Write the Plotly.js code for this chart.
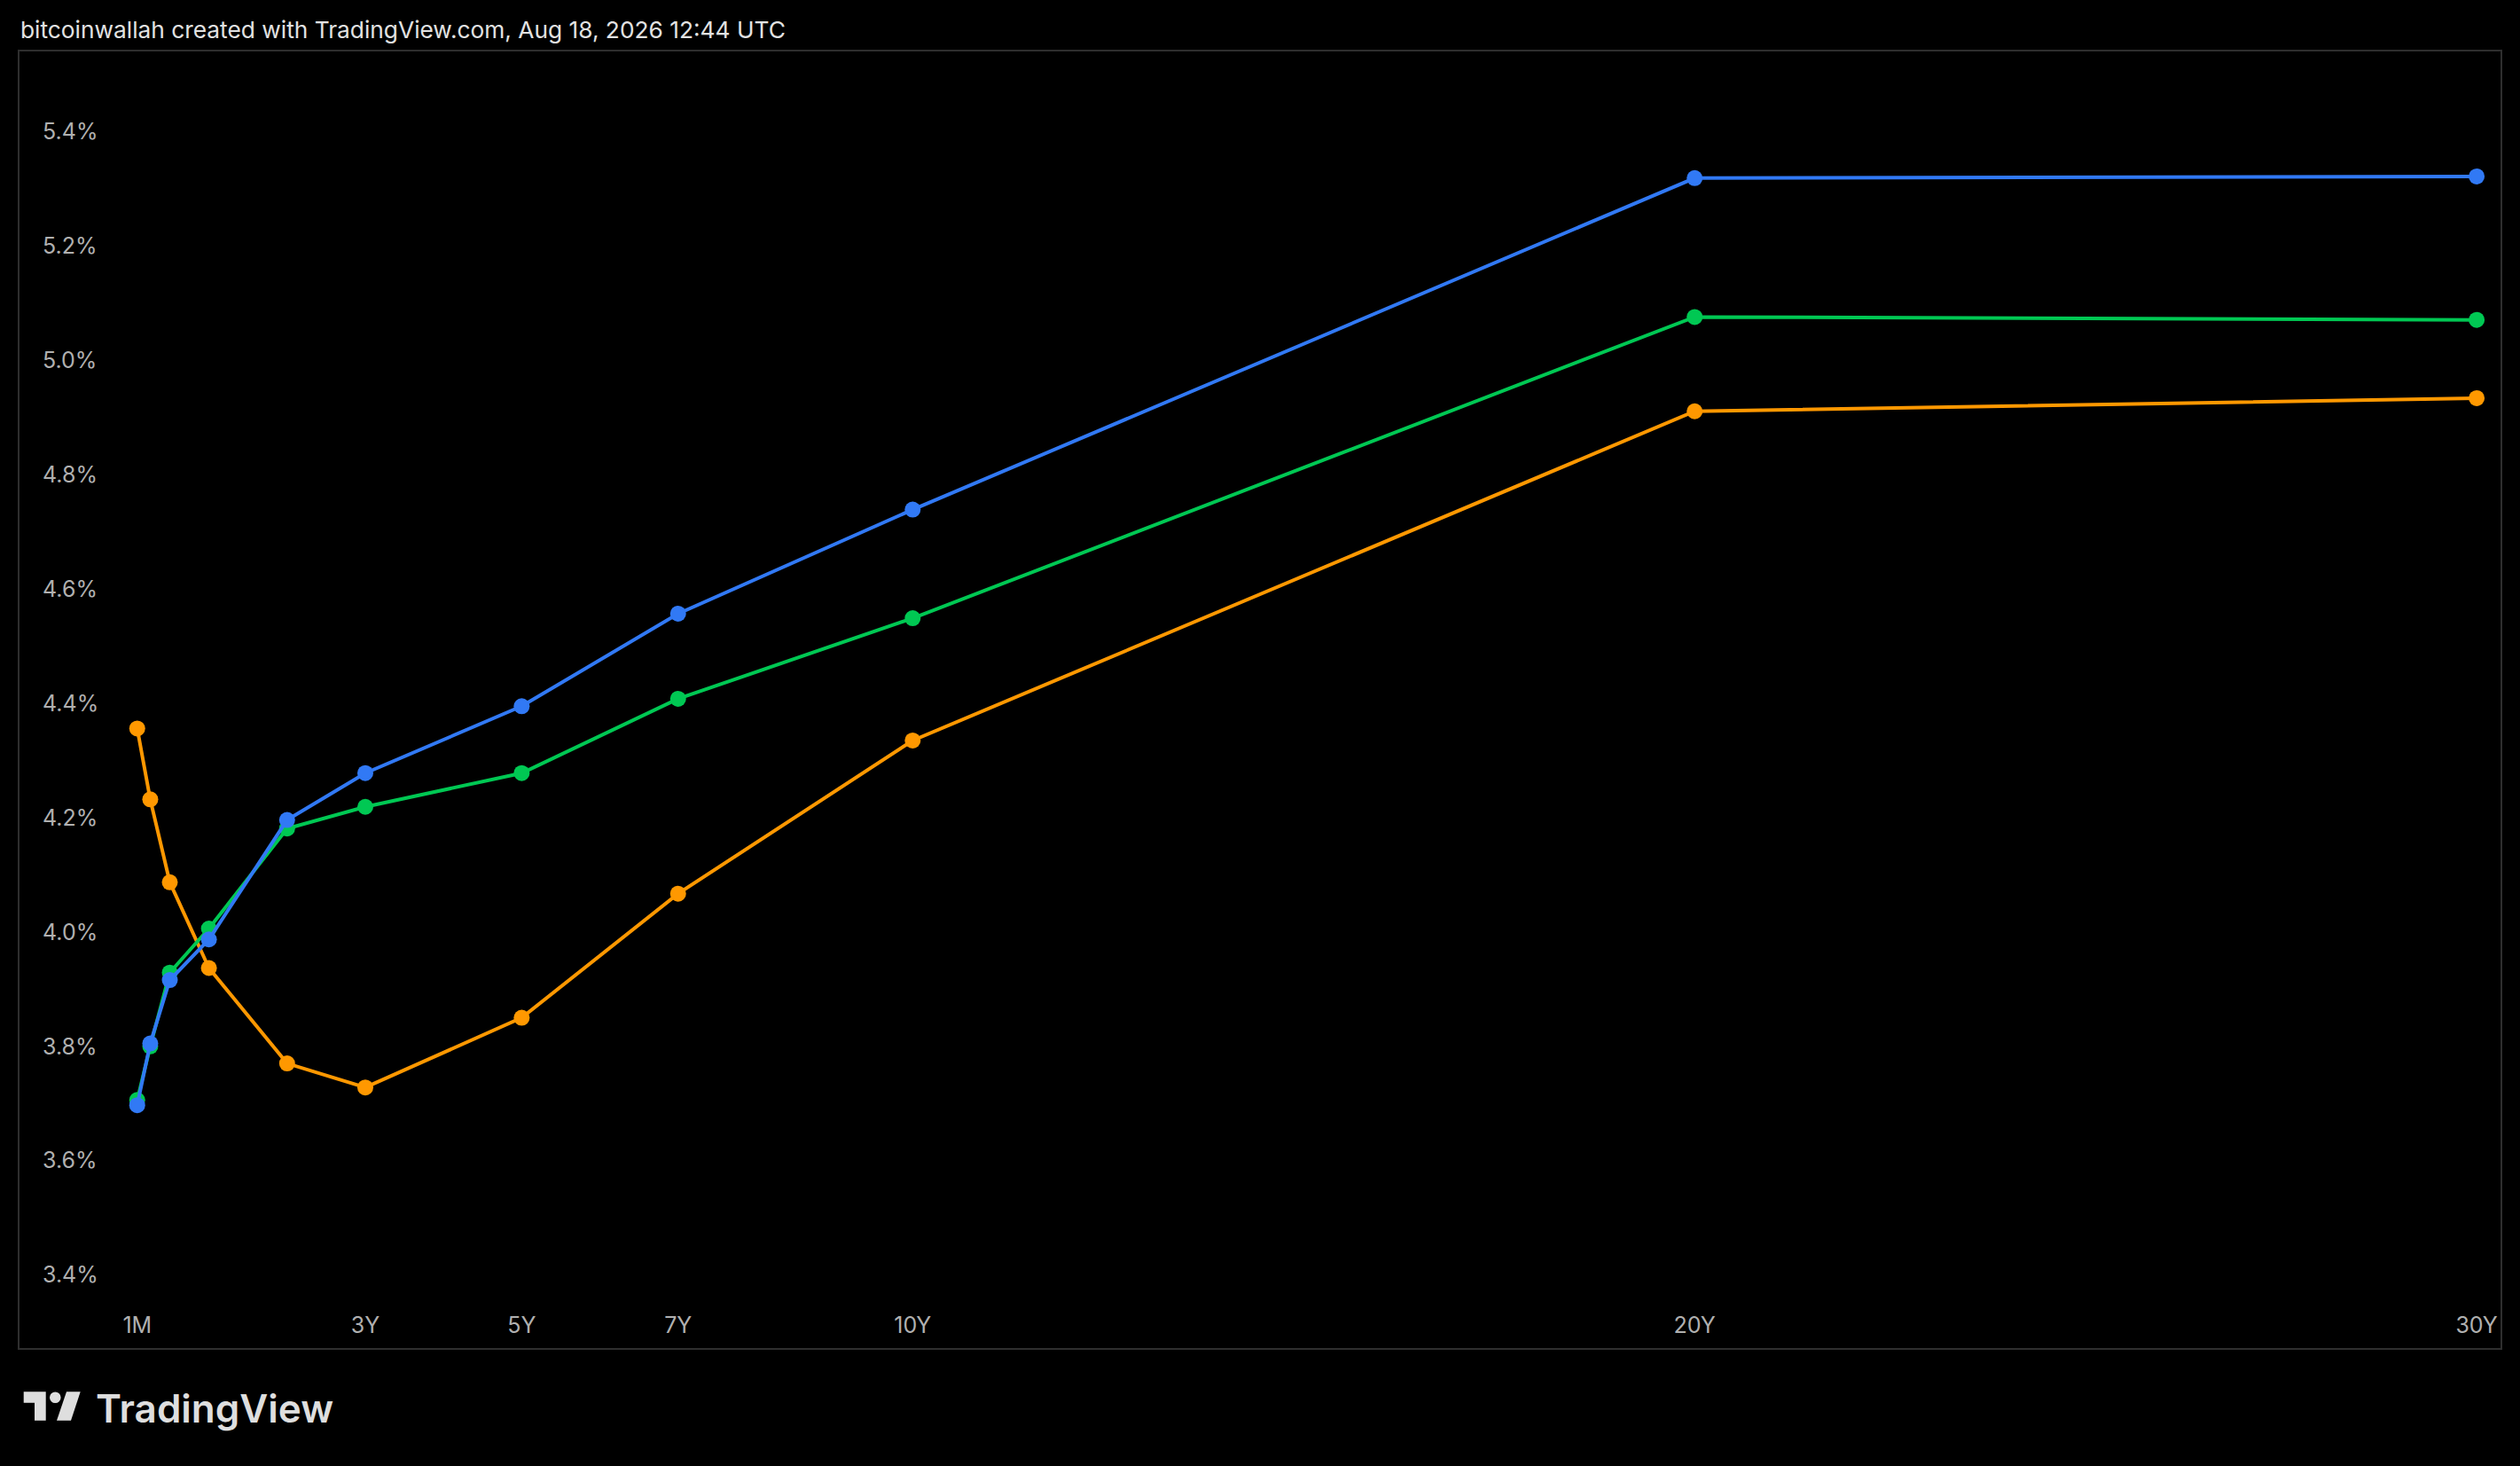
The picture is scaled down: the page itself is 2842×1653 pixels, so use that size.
<!DOCTYPE html>
<html>
<head>
<meta charset="utf-8">
<script src="https://cdn.plot.ly/plotly-3.0.1.min.js"></script>
<style>
  html, body { margin: 0; padding: 0; background: #000; }
  #chart { width: 2842px; height: 1653px; }
</style>
</head>
<body>
<div id="chart"></div>
<script>
// ---- data ----
const tenorLabels = ['1M', '3M', '6M', '1Y', '2Y', '3Y', '5Y', '7Y', '10Y', '20Y', '30Y'];
const tenorYears  = [0.0833, 0.25, 0.5, 1, 2, 3, 5, 7, 10, 20, 30];

const blueYields   = [3.697, 3.805, 3.916, 3.987, 4.196, 4.278, 4.395, 4.557, 4.739, 5.319, 5.322];
const greenYields  = [3.706, 3.800, 3.929, 4.006, 4.181, 4.219, 4.278, 4.408, 4.549, 5.076, 5.071];
const orangeYields = [4.356, 4.232, 4.087, 3.937, 3.770, 3.728, 3.850, 4.067, 4.335, 4.911, 4.934];

const axisTickVals = [0.0833, 3, 5, 7, 10, 20, 30];
const axisTickText = ['1M', '3Y', '5Y', '7Y', '10Y', '20Y', '30Y'];
const yTickVals    = [3.4, 3.6, 3.8, 4.0, 4.2, 4.4, 4.6, 4.8, 5.0, 5.2, 5.4];
const yTickText    = ['3.4%', '3.6%', '3.8%', '4.0%', '4.2%', '4.4%', '4.6%', '4.8%', '5.0%', '5.2%', '5.4%'];

const titleText = 'bitcoinwallah created with TradingView.com, Aug 18, 2026 12:44 UTC';

// ---- layout helpers (pixel -> paper) ----
const W = 2842, H = 1653;
const PL = 22, PT = 58, PR = 2820, PB = 1520;
const px = v => (v - PL) / (PR - PL);
const py = v => (PB - v) / (PB - PT);

function series(y, color) {
  return {
    x: tenorYears, y: y, text: tenorLabels,
    type: 'scatter', mode: 'lines+markers',
    line: { color: color, width: 4 },
    marker: { color: color, size: 18, line: { width: 0 } },
    hoverinfo: 'skip', showlegend: false, cliponaxis: false
  };
}

const data = [
  series(orangeYields, '#FF9800'),
  series(greenYields, '#00C853'),
  series(blueYields, '#3179F5')
];

const labelFont = { family: 'Inter, Roboto, sans-serif', size: 25, color: '#b0b0b0' };

const logoColor = '#dedede';
const shapes = [
  // TradingView logo: bar + stem
  { type: 'path', xref: 'paper', yref: 'paper', line: { width: 0 }, fillcolor: logoColor,
    path: `M ${px(26.7)},${py(1569.3)} L ${px(51.7)},${py(1569.3)} L ${px(51.7)},${py(1601.7)} L ${px(39)},${py(1601.7)} L ${px(39)},${py(1581.7)} L ${px(26.7)},${py(1581.7)} Z` },
  // dot
  { type: 'circle', xref: 'paper', yref: 'paper', line: { width: 0 }, fillcolor: logoColor,
    x0: px(56), x1: px(68.6), y0: py(1582), y1: py(1569.4) },
  // slanted bar
  { type: 'path', xref: 'paper', yref: 'paper', line: { width: 0 }, fillcolor: logoColor,
    path: `M ${px(75)},${py(1569.3)} L ${px(90.7)},${py(1569.3)} L ${px(80)},${py(1601.7)} L ${px(64)},${py(1601.7)} Z` }
];

const layout = {
  width: W, height: H,
  paper_bgcolor: '#000000',
  plot_bgcolor: '#000000',
  margin: { l: PL, r: W - PR, t: PT, b: H - PB, pad: 0 },
  title: {
    text: titleText,
    xref: 'container', yref: 'container',
    x: 23 / W, xanchor: 'left',
    y: 1 - 34 / H, yanchor: 'middle',
    font: { family: 'Inter, Roboto, sans-serif', size: 26.3, color: '#e2e2e2' }
  },
  xaxis: {
    range: [-1.422, 30.305],
    showgrid: false, zeroline: false,
    showline: true, mirror: true, linecolor: '#2e2e2e', linewidth: 2,
    tickmode: 'array', tickvals: axisTickVals, ticktext: axisTickText,
    ticks: '', ticklabelposition: 'inside', ticklabeloverflow: 'allow',
    ticklabelstandoff: 14,
    tickfont: labelFont, fixedrange: true
  },
  yaxis: {
    range: [3.2721, 5.5406],
    showgrid: false, zeroline: false,
    showline: true, mirror: true, linecolor: '#2e2e2e', linewidth: 2,
    tickmode: 'array', tickvals: yTickVals, ticktext: yTickText,
    ticks: '', ticklabelposition: 'inside', ticklabeloverflow: 'allow',
    ticklabelstandoff: 28,
    tickfont: labelFont, fixedrange: true
  },
  shapes: shapes,
  annotations: [
    { text: 'TradingView', xref: 'paper', yref: 'paper',
      x: px(106), y: py(1588), xanchor: 'left', yanchor: 'middle', showarrow: false,
      font: { family: 'Inter, Roboto, sans-serif', size: 44, color: logoColor, weight: 600 } }
  ]
};

Plotly.newPlot('chart', data, layout, { staticPlot: true, displayModeBar: false, responsive: false });
</script>
</body>
</html>
